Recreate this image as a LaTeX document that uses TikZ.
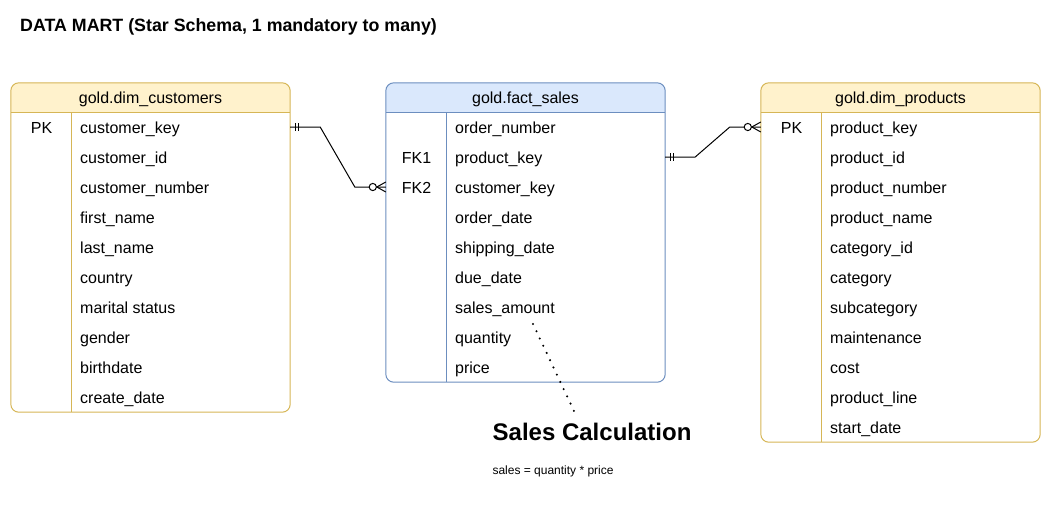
\documentclass[tikz,border=0pt]{standalone}
\usepackage{fontspec}
\setmainfont{Liberation Sans}
\usetikzlibrary{calc}
\definecolor{ybord}{HTML}{D6B656}
\definecolor{yfill}{HTML}{FFF2CC}
\definecolor{bbord}{HTML}{6C8EBF}
\definecolor{bfill}{HTML}{DAE8FC}
\begin{document}
\begin{tikzpicture}[x=1pt,y=-1pt,
  tbl/.style={rectangle, minimum width=279pt, inner sep=0pt, draw=none},
  fld/.style={anchor=west, inner sep=0pt, text height=12pt, text depth=0pt, font=\fontsize{16}{18}\selectfont},
  keyl/.style={inner sep=0pt, text height=12pt, text depth=0pt, font=\fontsize{16}{18}\selectfont},
  head/.style={inner sep=0pt, text height=11.5pt, text depth=0pt, font=\fontsize{16}{18}\selectfont},
  bord/.style={line width=1pt, rounded corners=8pt},
  conn/.style={line width=1pt, black},
  mk/.style={line width=1pt, black}
]
\useasboundingbox (0,0) rectangle (1041,504);

% title
\node[anchor=base west, inner sep=0pt, font=\bfseries\fontsize{17.8}{20}\selectfont] (title) at (20,31) {DATA MART (Star Schema, 1 mandatory to many)};

% table frames
\node[tbl, minimum height=329pt] (cust) at (150.5,247.5) {};
\node[tbl, minimum height=299pt] (fact) at (525.5,232.5) {};
\node[tbl, minimum height=359pt] (prod) at (900.5,262.5) {};

% header fills
\foreach \tb/\fc in {cust/yfill, fact/bfill, prod/yfill}{
  \fill[\fc, rounded corners=8pt] (\tb.north west) rectangle ([yshift=-30pt]\tb.north east);
  \fill[\fc] ([yshift=-15pt]\tb.north west) rectangle ([yshift=-30pt]\tb.north east);
}
% borders
\foreach \tb/\bc in {cust/ybord, fact/bbord, prod/ybord}{
  \draw[bord, \bc] (\tb.north west) rectangle (\tb.south east);
  \draw[line width=1pt, \bc] ([yshift=-30pt]\tb.north west) -- ([yshift=-30pt]\tb.north east);
  \draw[line width=1pt, \bc] ([xshift=61pt, yshift=-30pt]\tb.north west) -- ([xshift=61pt]\tb.south west);
}

% headers
\node[head] (custh) at (150.5,98) {gold.dim\_customers};
\node[head] (facth) at (525.5,98) {gold.fact\_sales};
\node[head] (prodh) at (900.5,98) {gold.dim\_products};

% customer fields
\foreach \t [count=\i] in {customer\_key, customer\_id, customer\_number, first\_name, last\_name, country, marital status, gender, birthdate, create\_date}{
  \node[fld] (c\i) at (80,97+30*\i) {\t};
}
\node[keyl] (cpk) at (41.5,127) {PK};

% fact fields
\foreach \t [count=\i] in {order\_number, product\_key, customer\_key, order\_date, shipping\_date, due\_date, sales\_amount, quantity, price}{
  \node[fld] (f\i) at (455,97+30*\i) {\t};
}
\node[keyl] (ffk1) at (416.5,157) {FK1};
\node[keyl] (ffk2) at (416.5,187) {FK2};

% product fields
\foreach \t [count=\i] in {product\_key, product\_id, product\_number, product\_name, category\_id, category, subcategory, maintenance, cost, product\_line, start\_date}{
  \node[fld] (p\i) at (830,97+30*\i) {\t};
}
\node[keyl] (ppk) at (791.5,127) {PK};

% connector endpoints
\coordinate (ce1) at (cust.east |- c1.west);
\coordinate (fw3) at (fact.west |- f3.west);
\coordinate (fe2) at (fact.east |- f2.west);
\coordinate (pw1) at (prod.west |- p1.west);

% connector 1: customers (one mandatory) -> fact (zero or many)
\draw[conn] (ce1) -- ++(30,0) -- ($(fw3)+(-31,0)$) -- (fw3);
\draw[mk] ($(ce1)+(5,-4)$) -- ++(0,8);
\draw[mk] ($(ce1)+(8,-4)$) -- ++(0,8);
\draw[mk] ($(fw3)+(-9,0)$) -- ($(fw3)+(0,-5)$);
\draw[mk] ($(fw3)+(-9,0)$) -- ($(fw3)+(0,5)$);
\draw[mk, fill=white] ($(fw3)+(-13,0)$) circle (3.6pt);

% connector 2: fact (one mandatory) -> products (zero or many)
\draw[conn] (fe2) -- ++(30,0) -- ($(pw1)+(-31,0)$) -- (pw1);
\draw[mk] ($(fe2)+(5,-4)$) -- ++(0,8);
\draw[mk] ($(fe2)+(8,-4)$) -- ++(0,8);
\draw[mk] ($(pw1)+(-9,0)$) -- ($(pw1)+(0,-5)$);
\draw[mk] ($(pw1)+(-9,0)$) -- ($(pw1)+(0,5)$);
\draw[mk, fill=white] ($(pw1)+(-13,0)$) circle (3.6pt);

% sales calculation note
\node[anchor=base west, inner sep=0pt, font=\bfseries\fontsize{24}{28}\selectfont] (calc) at (492.5,440) {Sales Calculation};
\node[anchor=base west, inner sep=0pt, font=\fontsize{12}{14}\selectfont] (formula) at (492.3,474.3) {sales = quantity * price};
\coordinate (dt) at (533,324);
\coordinate (db) at (574,411);
\draw[line width=2.3pt, line cap=round, dash pattern=on 0pt off 8pt] (dt) -- (db);
\end{tikzpicture}
\end{document}
